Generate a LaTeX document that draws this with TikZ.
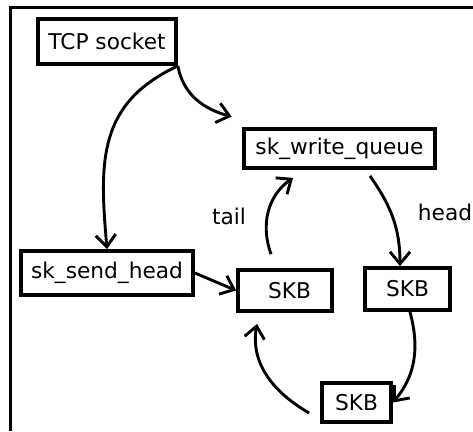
\documentclass[tikz,border=0pt]{standalone}
\usepackage{fontspec}
\setmainfont{DejaVu Sans}
\usetikzlibrary{arrows.meta}
\begin{document}
\begin{tikzpicture}[x=1pt,y=1pt,
  box/.style={draw, line width=3.8pt, inner sep=0pt, font=\fontsize{21.7}{26}\selectfont},
  link/.style={line width=2.9pt, -{Straight Barb[length=12pt,width=20pt,line width=2.9pt]}},
  lbl/.style={font=\fontsize{21.7}{26}\selectfont}]
\useasboundingbox (0,0) rectangle (473,431);
% frame
\draw[line width=2.6pt] (10.5,0) -- (10.5,423.5) -- (473,423.5);

% queue structures
\node[box, minimum width=138pt, minimum height=45pt] (tcp)  at (107,389.5) {TCP socket};
\node[box, minimum width=191pt, minimum height=39pt] (wq)   at (339.5,282.5) {sk\_write\_queue};
\node[box, minimum width=172pt, minimum height=44pt] (ssh)  at (107,158) {sk\_send\_head};
\node[box, minimum width=94pt,  minimum height=41pt] (skbm) at (285,140.5) {\hspace*{9pt}SKB};
\node[box, minimum width=85pt,  minimum height=42pt] (skbr) at (407.5,142) {SKB};
\node[box, minimum width=69pt,  minimum height=39pt] (skbb) at (356.5,28.5) {SKB};

% free ends of the pointers
\coordinate (wqin)   at ([xshift=-10.5pt,yshift=10.5pt]wq.north west);
\coordinate (wqout)  at ([xshift=30.5pt,yshift=-6pt]wq.south);
\coordinate (wqtail) at ([xshift=-46.5pt,yshift=-8pt]wq.south);
\coordinate (mtop)   at ([xshift=-14pt,yshift=14pt]skbm.north);
\coordinate (mbot)   at ([xshift=-28pt,yshift=-11pt]skbm.south);
\coordinate (bleft)  at ([xshift=-11pt,yshift=-10.5pt]skbb.west);

% pointers
\draw[link] (tcp.south east) to[out=205,in=95,looseness=1.15] (ssh.north);
\draw[link] (tcp.south east) to[out=-80,in=165] (wqin);
\draw[link] (wqout) to[out=-55,in=90] ([xshift=-7.5pt]skbr.north);
\draw[link] (mtop) to[out=110,in=215] (wqtail);
\draw[link] (ssh.east) -- (skbm.west);
\draw[link] ([xshift=2.5pt]skbr.south) to[out=-75,in=50] (skbb.east);
\draw[link] (bleft) to[out=150,in=-100] (mbot);

% labels
\node[lbl] (tail) at (229,215) {tail};
\node[lbl] (head) at (445,219) {head};
\end{tikzpicture}
\end{document}
